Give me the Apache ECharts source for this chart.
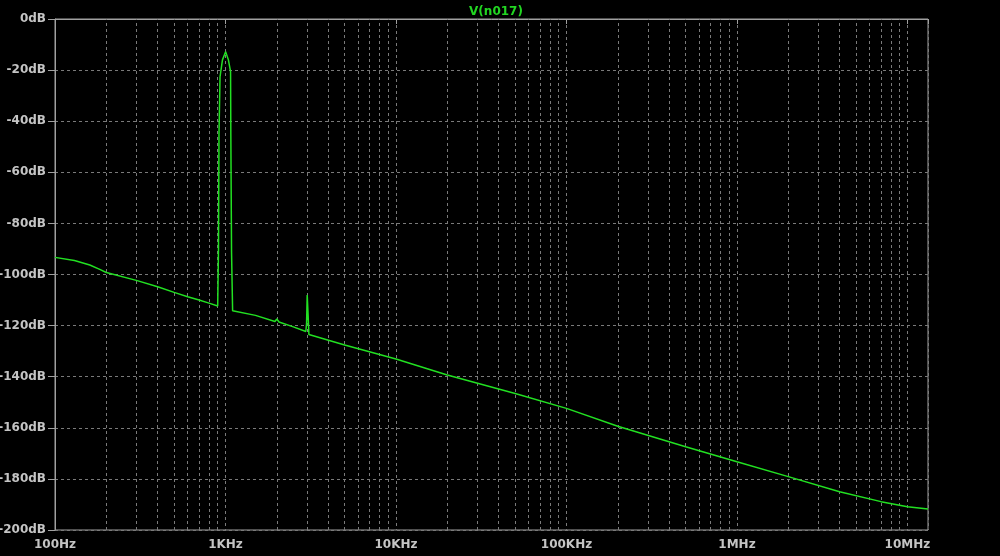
<!DOCTYPE html>
<html>
<head>
<meta charset="utf-8">
<script src="https://cdn.jsdelivr.net/npm/echarts@6/dist/echarts.min.js"></script>
<style>
html,body{margin:0;padding:0;background:#000;}
#c{width:1000px;height:556px;}
</style>
</head>
<body>
<div id="c"></div>
<script>
// Frequencies (Hz) and magnitudes (dB)
const freqs = [100, 130, 160, 183, 200, 300, 400, 500, 600, 700, 800, 900,
  905, 910, 916, 929, 960, 1002, 1040, 1071, 1075, 1085, 1101,
  1500, 1950, 2000, 2060, 2500, 2960, 2990, 3015, 3055, 3085,
  5000, 10000, 20000, 50000, 100000, 200000, 500000,
  1000000, 2000000, 4000000, 7000000, 10000000, 13200000];
const mags = [-93.3, -94.5, -96.3, -98.0, -99.2, -102.3, -104.8, -107.0, -108.7, -110.0, -111.2, -112.3,
  -112.4, -89.7, -44.7, -22.6, -16.0, -12.8, -16.0, -20.6, -45.4, -91.0, -114.2,
  -116.0, -118.4, -117.4, -118.6, -120.5, -122.3, -119.0, -108.0, -116.5, -123.5,
  -127.6, -133.1, -139.3, -146.6, -152.4, -159.4, -167.4,
  -173.3, -179.1, -185.0, -188.9, -190.9, -191.8];
const majorTicks = [100, 1000, 10000, 100000, 1000000, 10000000];
const majorLabels = ['100Hz', '1KHz', '10KHz', '100KHz', '1MHz', '10MHz'];
const yTicks = [0, -20, -40, -60, -80, -100, -120, -140, -160, -180, -200];
const seriesName = 'V(n017)';

const minorGrid = [];
majorTicks.forEach(d => { for (let k = 2; k <= 9; k++) { const f = d * k; if (f < 13200000) minorGrid.push(f); } });

const data = freqs.map((f, i) => [f, mags[i]]);
const labelMap = {};
majorTicks.forEach((t, i) => labelMap[t] = majorLabels[i]);

const chart = echarts.init(document.getElementById('c'));
const gridColor = '#7a7a7a';
const textStyle = {color: '#c4c4c4', fontFamily: 'DejaVu Sans', fontWeight: 'bold', fontSize: 12};
chart.setOption({
  backgroundColor: '#000',
  animation: false,
  title: {
    text: seriesName, left: 491, top: 1, textAlign: 'center',
    textStyle: {color: '#22d622', fontFamily: 'DejaVu Sans', fontWeight: 'bold', fontSize: 12}
  },
  grid: {left: 55, right: 72, top: 19, bottom: 26, containLabel: false, outerBoundsMode: 'none',
    show: true, borderColor: '#a0a0a0', borderWidth: 1, backgroundColor: 'transparent'},
  xAxis: {
    type: 'log', logBase: 10, min: 100, max: 13200000,
    axisLine: {show: true, lineStyle: {color: '#a0a0a0', width: 1}},
    axisTick: {show: true, length: 5, lineStyle: {color: '#a0a0a0'}},
    axisLabel: Object.assign({margin: 9, formatter: v => labelMap[Math.round(v)] || ''}, textStyle),
    splitLine: {show: true, lineStyle: {color: gridColor, type: [3, 3], width: 1}},
    minorTick: {show: false}, minorSplitLine: {show: false}
  },
  yAxis: {
    type: 'value', min: -200, max: 0, interval: 20,
    axisLine: {show: true, lineStyle: {color: '#a0a0a0', width: 1}},
    axisTick: {show: true, length: 7, lineStyle: {color: '#a0a0a0'}},
    axisLabel: Object.assign({margin: 9, formatter: v => v + 'dB'}, textStyle),
    splitLine: {show: true, lineStyle: {color: gridColor, type: [3, 3], width: 1}}
  },
  series: [{
    name: seriesName, type: 'line', data: data, showSymbol: false, symbol: 'none', z: 3,
    lineStyle: {color: '#22e022', width: 1.5},
    markLine: {
      silent: true, symbol: 'none', z: 1, animation: false,
      label: {show: false},
      lineStyle: {color: gridColor, type: [3, 3], width: 1},
      data: minorGrid.map(f => ({xAxis: f}))
    }
  }]
});
</script>
</body>
</html>
